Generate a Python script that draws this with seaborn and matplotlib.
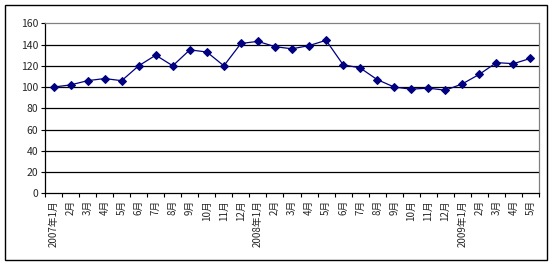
import matplotlib
matplotlib.use("Agg")
import matplotlib.pyplot as plt
import seaborn as sns
import pandas as pd
import numpy as np
from matplotlib.patches import Rectangle
from matplotlib.ticker import FixedLocator

sns.set_style("white")
plt.rcParams['font.family'] = ['Noto Sans CJK SC', 'DejaVu Sans']

labels = ["2007年1月", "2月", "3月", "4月", "5月", "6月", "7月", "8月", "9月", "10月", "11月", "12月",
          "2008年1月", "2月", "3月", "4月", "5月", "6月", "7月", "8月", "9月", "10月", "11月", "12月",
          "2009年1月", "2月", "3月", "4月", "5月"]
values = [100, 102, 106, 108, 106, 120, 130, 120, 135, 133, 120, 141,
          143, 138, 136, 139, 144, 121, 118, 107, 100, 98, 99, 97,
          103, 112, 123, 122, 127]
yticks = [0, 20, 40, 60, 80, 100, 120, 140, 160]

df = pd.DataFrame({"idx": np.arange(len(labels)), "value": values})

fig = plt.figure(figsize=(5.54, 2.66), dpi=100)
fig.patch.set_facecolor("white")
fig.add_artist(Rectangle((5/554, 1 - 260/266), 542/554, 255/266, transform=fig.transFigure,
                         fill=False, edgecolor="black", linewidth=1.0))

ax = fig.add_axes([45/554, 1 - 193.3/266, 494/554, 170/266])
sns.lineplot(data=df, x="idx", y="value", ax=ax, color="#000080", linewidth=0.9,
             marker="D", markersize=4.5, markeredgecolor="#000080", markerfacecolor="#000080")

ax.set_xlim(-0.5, len(labels) - 0.5)
ax.set_ylim(0, 160)
ax.set_yticks(yticks)
ax.set_yticklabels([str(v) for v in yticks], fontsize=7.5)
for v in yticks[1:-1]:
    ax.axhline(v, color="black", linewidth=0.9, zorder=0)

ax.set_xticks(np.arange(len(labels)))
ax.set_xticklabels(labels, rotation=90, fontsize=7, va="top", ha="center")
ax.tick_params(axis="x", which="major", length=0, pad=5)
ax.xaxis.set_minor_locator(FixedLocator(np.arange(-0.5, len(labels), 1.0)))
ax.tick_params(axis="x", which="minor", length=3, width=0.8, color="black", direction="out", bottom=True)
ax.tick_params(axis="y", length=3, width=0.8, color="black", direction="out", left=True, pad=2)

ax.set_xlabel("")
ax.set_ylabel("")
for s in ["top", "right"]:
    ax.spines[s].set_color("#808080")
    ax.spines[s].set_linewidth(0.9)
for s in ["left", "bottom"]:
    ax.spines[s].set_color("black")
    ax.spines[s].set_linewidth(0.9)

fig.savefig("out.png", dpi=100)
